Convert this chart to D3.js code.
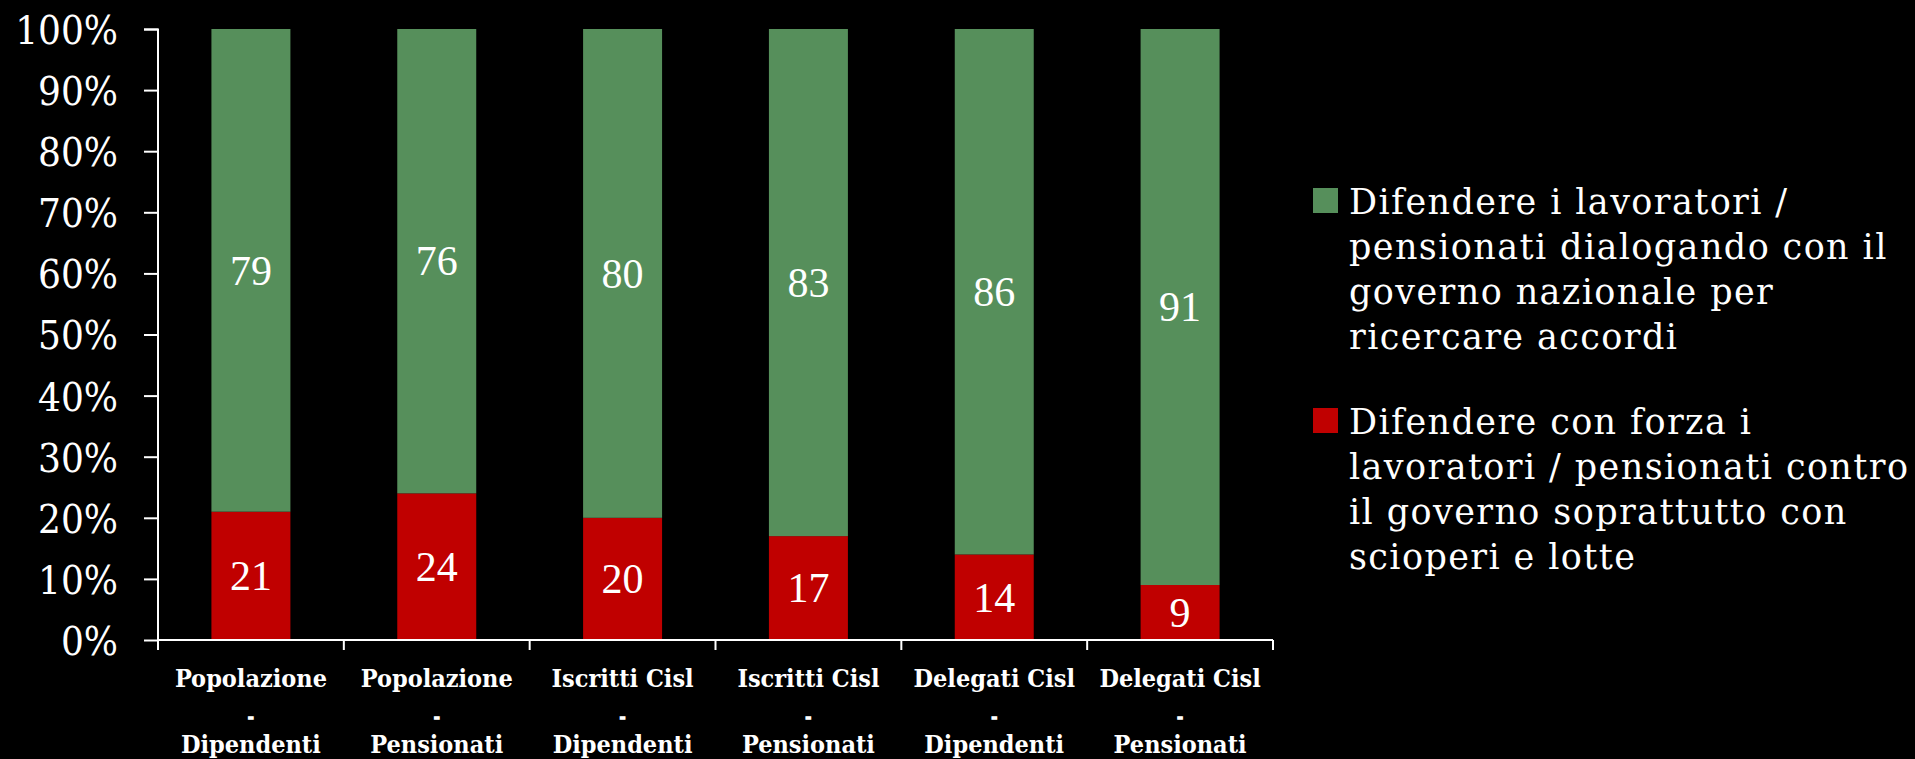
<!DOCTYPE html>
<html>
<head>
<meta charset="utf-8">
<script src="https://cdn.jsdelivr.net/npm/d3@7"></script>
<style>
html, body { margin: 0; padding: 0; background: #000; }
svg { display: block; }
</style>
</head>
<body>
<svg id="chart" width="1915" height="759"></svg>
<script>
const categories = [
  ["Popolazione", "-", "Dipendenti"],
  ["Popolazione", "-", "Pensionati"],
  ["Iscritti Cisl", "-", "Dipendenti"],
  ["Iscritti Cisl", "-", "Pensionati"],
  ["Delegati Cisl", "-", "Dipendenti"],
  ["Delegati Cisl", "-", "Pensionati"]
];
const seriesNames = [
  ["Difendere i lavoratori /", "pensionati dialogando con il", "governo nazionale per", "ricercare accordi"],
  ["Difendere con forza i", "lavoratori / pensionati contro", "il governo soprattutto con", "scioperi e lotte"]
];
const dialogo = [79, 76, 80, 83, 86, 91];
const forza = [21, 24, 20, 17, 14, 9];
const yTicks = [0, 10, 20, 30, 40, 50, 60, 70, 80, 90, 100];

const GREEN = "#568F5B", RED = "#C00000";
const condensed = "'DejaVu Serif Condensed', 'DejaVu Serif', serif";

const svg = d3.select("#chart");
svg.append("rect").attr("width", 1915).attr("height", 759).attr("fill", "#000");

const keys = categories.map(c => c.join(" "));
const x = d3.scaleBand().domain(keys).range([158, 1273]).paddingInner(0.575).paddingOuter(0.2875);
const y = d3.scaleLinear().domain([0, 100]).range([640, 29]);

const rows = keys.map((k, i) => ({ key: k, forza: forza[i], dialogo: dialogo[i] }));
const stack = d3.stack().keys(["forza", "dialogo"])(rows);
const colors = { forza: RED, dialogo: GREEN };

const g = svg.append("g");
stack.forEach(layer => {
  g.selectAll(null).data(layer).enter().append("rect")
    .attr("x", d => x(d.data.key))
    .attr("width", x.bandwidth())
    .attr("y", d => y(d[1]))
    .attr("height", d => y(d[0]) - y(d[1]))
    .attr("fill", colors[layer.key]);
  g.selectAll(null).data(layer).enter().append("text")
    .attr("x", d => x(d.data.key) + x.bandwidth() / 2)
    .attr("y", d => (y(d[0]) + y(d[1])) / 2)
    .attr("dy", "0.34em")
    .attr("text-anchor", "middle")
    .attr("fill", "#fff")
    .style("font-family", "'Liberation Serif', serif")
    .style("font-size", "42px")
    .text(d => d[1] - d[0]);
});

// Y axis
const yAxis = d3.axisLeft(y).tickValues(yTicks).tickSize(14).tickPadding(26).tickFormat(d => d + "%");
const yg = svg.append("g").attr("transform", "translate(158,0)").call(yAxis);
yg.select(".domain").attr("stroke", "#fff").attr("stroke-width", 2).attr("d", "M-14,29.5H0V640");
yg.selectAll(".tick line").attr("stroke", "#fff").attr("stroke-width", 2);
yg.selectAll(".tick text").attr("fill", "#fff")
  .style("font-family", condensed).style("font-stretch", "condensed")
  .style("font-size", "40px").attr("dy", "0.36em");

// X axis line and boundary ticks
const xg = svg.append("g");
xg.append("line").attr("x1", 158).attr("x2", 1273).attr("y1", y(0)).attr("y2", y(0))
  .attr("stroke", "#fff").attr("stroke-width", 2);
const bounds = d3.range(keys.length + 1).map(i => x.range()[0] + i * x.step());
xg.selectAll(null).data(bounds).enter().append("line")
  .attr("x1", d => d).attr("x2", d => d).attr("y1", y(0)).attr("y2", y(0) + 10)
  .attr("stroke", "#fff").attr("stroke-width", 2);

const lineY = [687, 722, 753];
const lineSize = [25, 15, 25];
categories.forEach((c, i) => {
  c.forEach((line, j) => {
    xg.append("text")
      .attr("x", x(keys[i]) + x.bandwidth() / 2)
      .attr("y", lineY[j])
      .attr("text-anchor", "middle")
      .attr("fill", "#fff")
      .attr("stroke", j === 1 ? "#fff" : "none")
      .attr("stroke-width", j === 1 ? 1.6 : 0)
      .style("font-family", condensed).style("font-stretch", "condensed")
      .style("font-weight", "bold")
      .style("font-size", lineSize[j] + "px")
      .text(line);
  });
});

// Legend
const legendColors = [GREEN, RED];
const legend = svg.append("g");
seriesNames.forEach((lines, i) => {
  const top = 188 + i * 220;
  legend.append("rect").attr("x", 1313).attr("y", top).attr("width", 25).attr("height", 25)
    .attr("fill", legendColors[i]);
  const t = legend.append("text").attr("fill", "#fff")
    .style("font-family", "'DejaVu Serif', serif")
    .style("font-size", "35px")
    .style("letter-spacing", "1.4px");
  lines.forEach((line, j) => {
    t.append("tspan").attr("x", 1349).attr("y", top + 26 + j * 45).text(line);
  });
});
</script>
</body>
</html>
